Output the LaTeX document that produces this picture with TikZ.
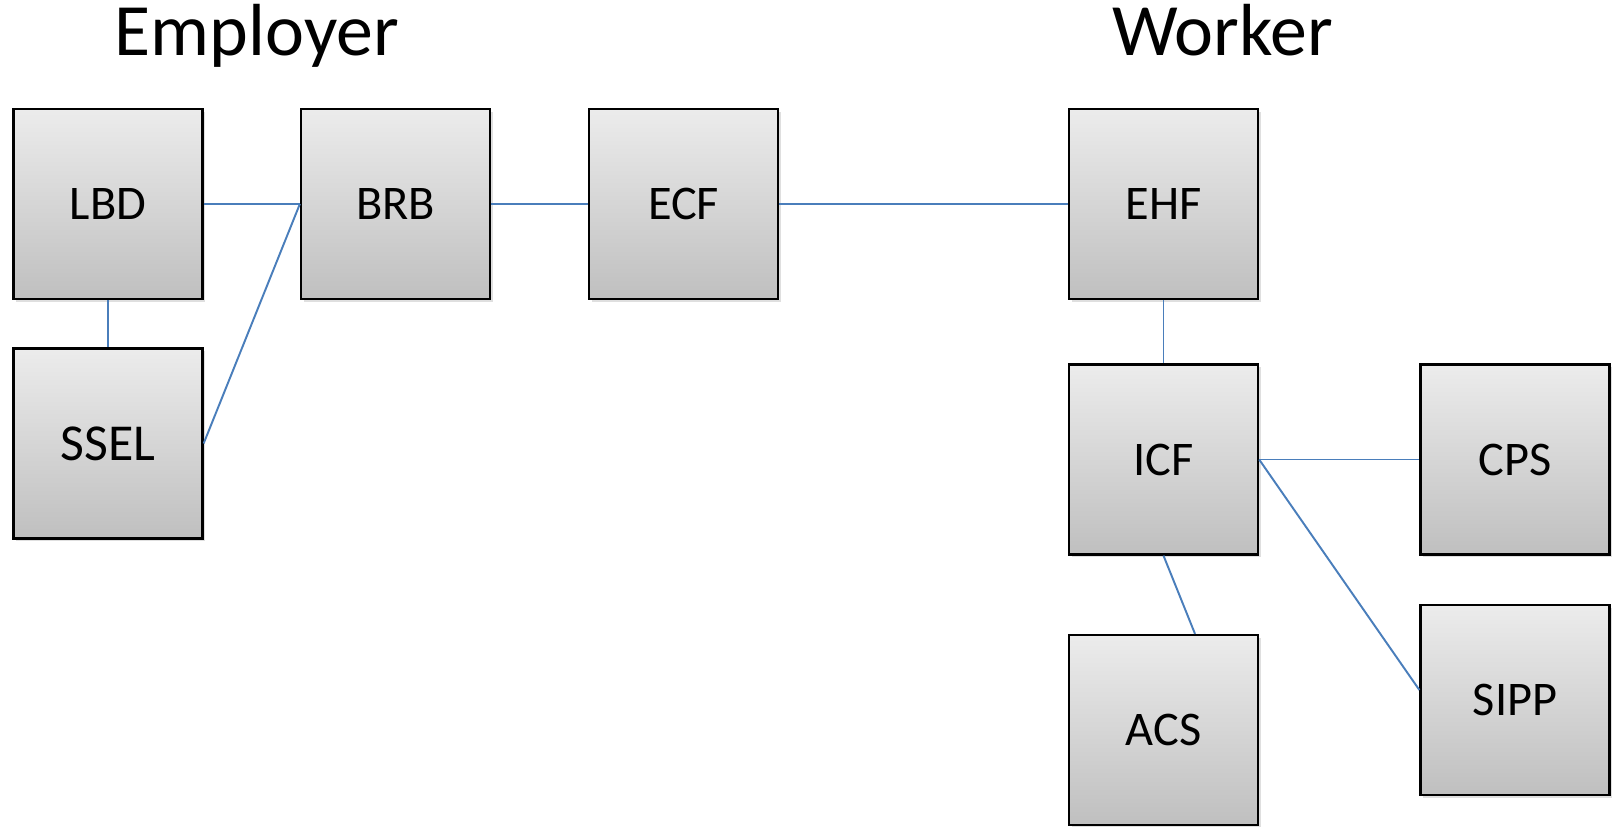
\documentclass[tikz,border=0pt]{standalone}
\usepackage{fontspec}
\setmainfont{Carlito}
\usetikzlibrary{shadows}

\definecolor{linkblue}{RGB}{74,126,187}

\tikzset{
  srcbox/.style={draw=black, line width=1.3pt, top color=gray!15, bottom color=gray!50,
    minimum width=3.78cm, minimum height=3.8cm, font=\fontsize{27.5}{32}\selectfont,
    drop shadow={shadow xshift=0.05cm, shadow yshift=-0.06cm, opacity=0.25}},
  heading/.style={anchor=base, font=\fontsize{42}{48}\selectfont},
  link/.style={draw=linkblue, line width=1.1pt}
}

\begin{document}
\begin{tikzpicture}
            \clip (0,0) rectangle (32.24,16.54);
            \useasboundingbox (0,0) rectangle (32.24,16.54);

            % Headings
            \node[heading] (emp) at (5.14,15.42) {Employer};
            \node[heading] (wrk) at (24.45,15.42) {Worker};

            % Employer side
            \node[srcbox] (lbd) at (2.16,12.46) {LBD};
            \node[srcbox, font=\fontsize{29.5}{34}\selectfont] (ssel) at (2.16,7.67) {SSEL};
            \node[srcbox] (brb) at (7.91,12.46) {BRB};
            \node[srcbox] (ecf) at (13.67,12.46) {ECF};

            % Worker side
            \node[srcbox] (ehf) at (23.27,12.46) {EHF};
            \node[srcbox] (icf) at (23.27,7.35) {ICF};
            \node[srcbox] (cps) at (30.30,7.35) {CPS};
            \node[srcbox] (sipp) at (30.30,2.54) {SIPP};
            \node[srcbox] (acs) at (23.27,1.94) {ACS};

            % Links
            \draw[link] (lbd) -- (brb);
            \draw[link] (lbd) -- (ssel);
            \draw[link] (ssel.east) -- (brb.west);
            \draw[link] (brb) -- (ecf);
            \draw[link] (ecf) -- (ehf);
            \draw[link] (ehf) -- (icf);
            \draw[link] (icf) -- (cps);
            \draw[link] (icf.east) -- ([yshift=0.2cm]sipp.west);
            \draw[link] (icf.south) -- ([xshift=0.63cm]acs.north);
\end{tikzpicture}
\end{document}
